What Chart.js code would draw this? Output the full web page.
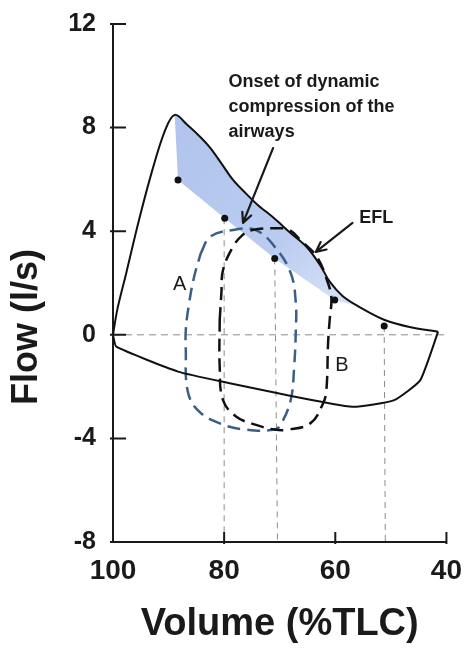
<!DOCTYPE html>
<html>
<head>
<meta charset="utf-8">
<script src="https://cdn.jsdelivr.net/npm/chart.js@4.4.1/dist/chart.umd.min.js"></script>
<style>
  html, body { margin: 0; padding: 0; background: #fff; }
</style>
</head>
<body>
<canvas id="flowChart" width="474" height="655"></canvas>
<script>
// flow-volume loops: MEFV envelope, two tidal loops, EFL shading

const xTicks = [100, 80, 60, 40];
const yTicks = [12, 8, 4, 0, -4, -8];

// maximal expiratory curve (volume %TLC, flow l/s)
const mefvExpVolume = [100, 99.2, 97.6, 95.3, 93.0, 90.6, 88.9, 86.6, 84.2, 82.5, 80.5, 78.4, 76.1, 73.8, 72.6, 70.9, 68.0, 65.1, 62.7, 61.0, 58.7, 55.7, 51.1, 46.4, 41.5];
const mefvExpFlow   = [0, 1.0, 2.40, 4.45, 6.30, 7.91, 8.49, 8.10, 7.62, 7.22, 6.62, 5.98, 5.46, 4.98, 4.78, 4.48, 3.92, 3.38, 2.68, 2.05, 1.50, 1.08, 0.57, 0.29, 0.12];

// maximal inspiratory curve
const mefvInspVolume = [41.5, 44.7, 49.4, 56.9, 70.3, 79.0, 88.3, 99.4, 100];
const mefvInspFlow   = [0.12, -1.75, -2.52, -2.78, -2.26, -1.87, -1.42, -0.46, 0];

// tidal loop A (blue)
const loopAVolume = [84.2, 82.5, 78.4, 74.4, 70.9, 68.0, 67.1, 67.1, 67.4, 68.0, 69.7, 70.9, 76.1, 80.8, 84.8, 86.6, 86.9, 86.9, 86.3, 85.4, 84.2];
const loopAFlow   = [3.15, 3.79, 4.05, 4.05, 3.40, 2.37, 1.22, 0.19, -1.23, -2.50, -3.42, -3.66, -3.66, -3.42, -2.90, -2.13, -0.59, 0.19, 1.22, 2.24, 3.15];

// tidal loop B (black)
const loopBVolume = [80.8, 80.5, 80.2, 78.4, 76.7, 74.9, 70.9, 68.3, 66.0, 63.3, 61.3, 60.7, 61.0, 61.3, 61.6, 62.2, 64.5, 68.6, 70.9, 74.4, 77.8, 80.2, 80.8, 80.8];
const loopBFlow   = [0.57, 1.60, 2.50, 3.40, 3.85, 4.05, 4.11, 4.05, 3.60, 3.01, 1.99, 1.41, 0.60, -0.33, -2.13, -2.65, -3.42, -3.66, -3.66, -3.47, -3.16, -2.52, -1.23, 0.57];

// end-expiratory points marked on the envelope
const dotVolume = [88.3, 79.9, 70.9, 60.1, 51.2];
const dotFlow   = [5.98, 4.50, 2.95, 1.34, 0.34];

// dashed drop lines to the volume axis
const dropTopVolume    = [80.0, 70.9, 51.2];
const dropTopFlow      = [4.50, 2.95, 0.34];
const dropBottomVolume = [80.0, 70.4, 51.0];

// shaded band runs along the envelope between these volumes
const shadeFromVolume = 88.9;
const shadeToVolume = 55.7;

const FONT = "'Liberation Sans', Arial, sans-serif";
const INK = '#1a1a1a';

function toPts(xs, ys) {
  return xs.map((x, i) => ({ x: x, y: ys[i] }));
}

// polygon: envelope from peak downward, back along the tidal end points
const shadePts = toPts(mefvExpVolume, mefvExpFlow)
  .filter(p => p.x <= shadeFromVolume && p.x >= shadeToVolume)
  .concat(toPts(dotVolume, dotFlow).filter(p => p.x > shadeToVolume).reverse());

const dropSets = dropTopVolume.map((v, i) => ({
  data: [{ x: v, y: dropTopFlow[i] }, { x: dropBottomVolume[i], y: -8 }],
  showLine: true, borderColor: '#8c8c8c', borderWidth: 1, borderDash: [6, 5],
  pointRadius: 0, order: 9
}));

// text + arrows, anchored in data units
const notes = {
  onset: { x: 79.2, y: 9.77, lines: ['Onset of dynamic', 'compression of the', 'airways'] },
  onsetArrow: { from: [71.2, 7.21], to: [76.6, 4.32] },
  efl: { x: 55.7, y: 4.51, text: 'EFL' },
  eflArrow: { from: [56.9, 4.32], to: [63.5, 3.20] },
  a: { x: 88.0, y: 1.93, text: 'A' },
  b: { x: 58.8, y: -1.17, text: 'B' },
  yTitle: { text: 'Flow (l/s)', left: 27, y: 0.3 }
};

function arrow(ctx, x1, y1, x2, y2) {
  const ang = Math.atan2(y2 - y1, x2 - x1);
  const h = 11;
  ctx.beginPath();
  ctx.moveTo(x1, y1);
  ctx.lineTo(x2, y2);
  ctx.moveTo(x2 - h * Math.cos(ang - 0.45), y2 - h * Math.sin(ang - 0.45));
  ctx.lineTo(x2, y2);
  ctx.lineTo(x2 - h * Math.cos(ang + 0.45), y2 - h * Math.sin(ang + 0.45));
  ctx.stroke();
}

const notesPlugin = {
  id: 'notes',
  afterDatasetsDraw(chart) {
    const { ctx, scales: { x, y } } = chart;
    ctx.save();
    ctx.fillStyle = INK;
    ctx.strokeStyle = INK;
    ctx.lineWidth = 2.2;
    ctx.lineCap = 'round';
    ctx.lineJoin = 'round';

    ctx.font = 'bold 18px ' + FONT;
    ctx.textAlign = 'left';
    ctx.textBaseline = 'middle';
    notes.onset.lines.forEach((t, i) => {
      ctx.fillText(t, x.getPixelForValue(notes.onset.x), y.getPixelForValue(notes.onset.y) + i * 25);
    });
    ctx.fillText(notes.efl.text, x.getPixelForValue(notes.efl.x), y.getPixelForValue(notes.efl.y));

    [notes.onsetArrow, notes.eflArrow].forEach(a => {
      arrow(ctx, x.getPixelForValue(a.from[0]), y.getPixelForValue(a.from[1]),
                 x.getPixelForValue(a.to[0]), y.getPixelForValue(a.to[1]));
    });

    ctx.font = '20px ' + FONT;
    ctx.textAlign = 'center';
    [notes.a, notes.b].forEach(n => {
      ctx.fillText(n.text, x.getPixelForValue(n.x), y.getPixelForValue(n.y));
    });

    // y axis title sits below the middle of the axis in the original
    ctx.translate(notes.yTitle.left, y.getPixelForValue(notes.yTitle.y));
    ctx.rotate(-Math.PI / 2);
    ctx.font = 'bold 36px ' + FONT;
    ctx.fillText(notes.yTitle.text, 0, 0);
    ctx.restore();
  }
};

// tick marks drawn on the inside of the axes
const innerTicks = {
  id: 'innerTicks',
  afterDraw(chart) {
    const { ctx, chartArea, scales: { x, y } } = chart;
    ctx.save();
    ctx.strokeStyle = INK;
    ctx.lineWidth = 2;
    ctx.beginPath();
    yTicks.forEach(v => {
      const py = y.getPixelForValue(v);
      ctx.moveTo(chartArea.left - 3, py);
      ctx.lineTo(chartArea.left + 13, py);
    });
    xTicks.slice(1).forEach(v => {
      const px = x.getPixelForValue(v);
      ctx.moveTo(px, chartArea.bottom + 2);
      ctx.lineTo(px, chartArea.bottom - 10);
    });
    ctx.stroke();
    ctx.restore();
  }
};

new Chart(document.getElementById('flowChart'), {
  type: 'scatter',
  data: {
    datasets: [
      {
        data: shadePts, showLine: true, fill: 'shape', borderWidth: 0, pointRadius: 0, order: 10,
        backgroundColor: ctx => {
          const c = ctx.chart;
          if (!c.chartArea) return 'rgb(178,197,238)';
          const sx = c.scales.x, sy = c.scales.y;
          const g = c.ctx.createLinearGradient(
            sx.getPixelForValue(88), sy.getPixelForValue(8),
            sx.getPixelForValue(56), sy.getPixelForValue(1));
          g.addColorStop(0, 'rgb(176,196,237)');
          g.addColorStop(0.6, 'rgb(186,204,240)');
          g.addColorStop(1, 'rgb(220,229,247)');
          return g;
        }
      },
      {
        data: [{ x: 100, y: 0 }, { x: 40, y: 0 }],
        showLine: true, borderColor: '#8c8c8c', borderWidth: 1, borderDash: [7, 5],
        pointRadius: 0, order: 9
      },
      ...dropSets,
      {
        data: toPts(loopAVolume, loopAFlow), showLine: true, borderColor: '#3a5f87',
        borderWidth: 2.5, borderDash: [13, 7], tension: 0.4, pointRadius: 0, order: 5
      },
      {
        data: toPts(loopBVolume, loopBFlow), showLine: true, borderColor: '#111',
        borderWidth: 2.5, borderDash: [13, 7], tension: 0.4, pointRadius: 0, order: 4
      },
      {
        data: toPts(mefvExpVolume, mefvExpFlow), showLine: true, borderColor: '#111',
        borderWidth: 2, tension: 0.35, pointRadius: 0, order: 3
      },
      {
        data: toPts(mefvInspVolume, mefvInspFlow), showLine: true, borderColor: '#111',
        borderWidth: 2, tension: 0.15, pointRadius: 0, order: 3
      },
      {
        data: toPts(dotVolume, dotFlow), showLine: false, pointRadius: 3.5,
        pointBackgroundColor: '#111', pointBorderWidth: 0, order: 1
      }
    ]
  },
  options: {
    responsive: false,
    animation: false,
    events: [],
    layout: { padding: { top: 24, right: 17, bottom: 0, left: 0 } },
    plugins: { legend: { display: false }, tooltip: { enabled: false } },
    scales: {
      x: {
        type: 'linear', reverse: true, min: 40, max: 100,
        afterFit: s => { s.height = 113; },
        afterBuildTicks: s => { s.ticks = xTicks.map(v => ({ value: v })); },
        grid: { drawOnChartArea: false, drawTicks: false },
        border: { color: INK, width: 2 },
        ticks: { color: INK, padding: 12, font: { family: FONT, size: 28, weight: 'bold' } },
        title: {
          display: true, text: 'Volume (%TLC)', color: INK,
          padding: { top: 0, bottom: 8 },
          font: { family: FONT, size: 38, weight: 'bold' }
        }
      },
      y: {
        type: 'linear', min: -8, max: 12,
        afterFit: s => { s.width = 113; s.paddingTop = 0; s.paddingBottom = 0; },
        afterBuildTicks: s => { s.ticks = yTicks.map(v => ({ value: v })); },
        grid: { drawOnChartArea: false, drawTicks: false },
        border: { color: INK, width: 2 },
        ticks: { color: INK, padding: 17, font: { family: FONT, size: 25, weight: 'bold' } }
      }
    }
  },
  plugins: [notesPlugin, innerTicks]
});
</script>
</body>
</html>
